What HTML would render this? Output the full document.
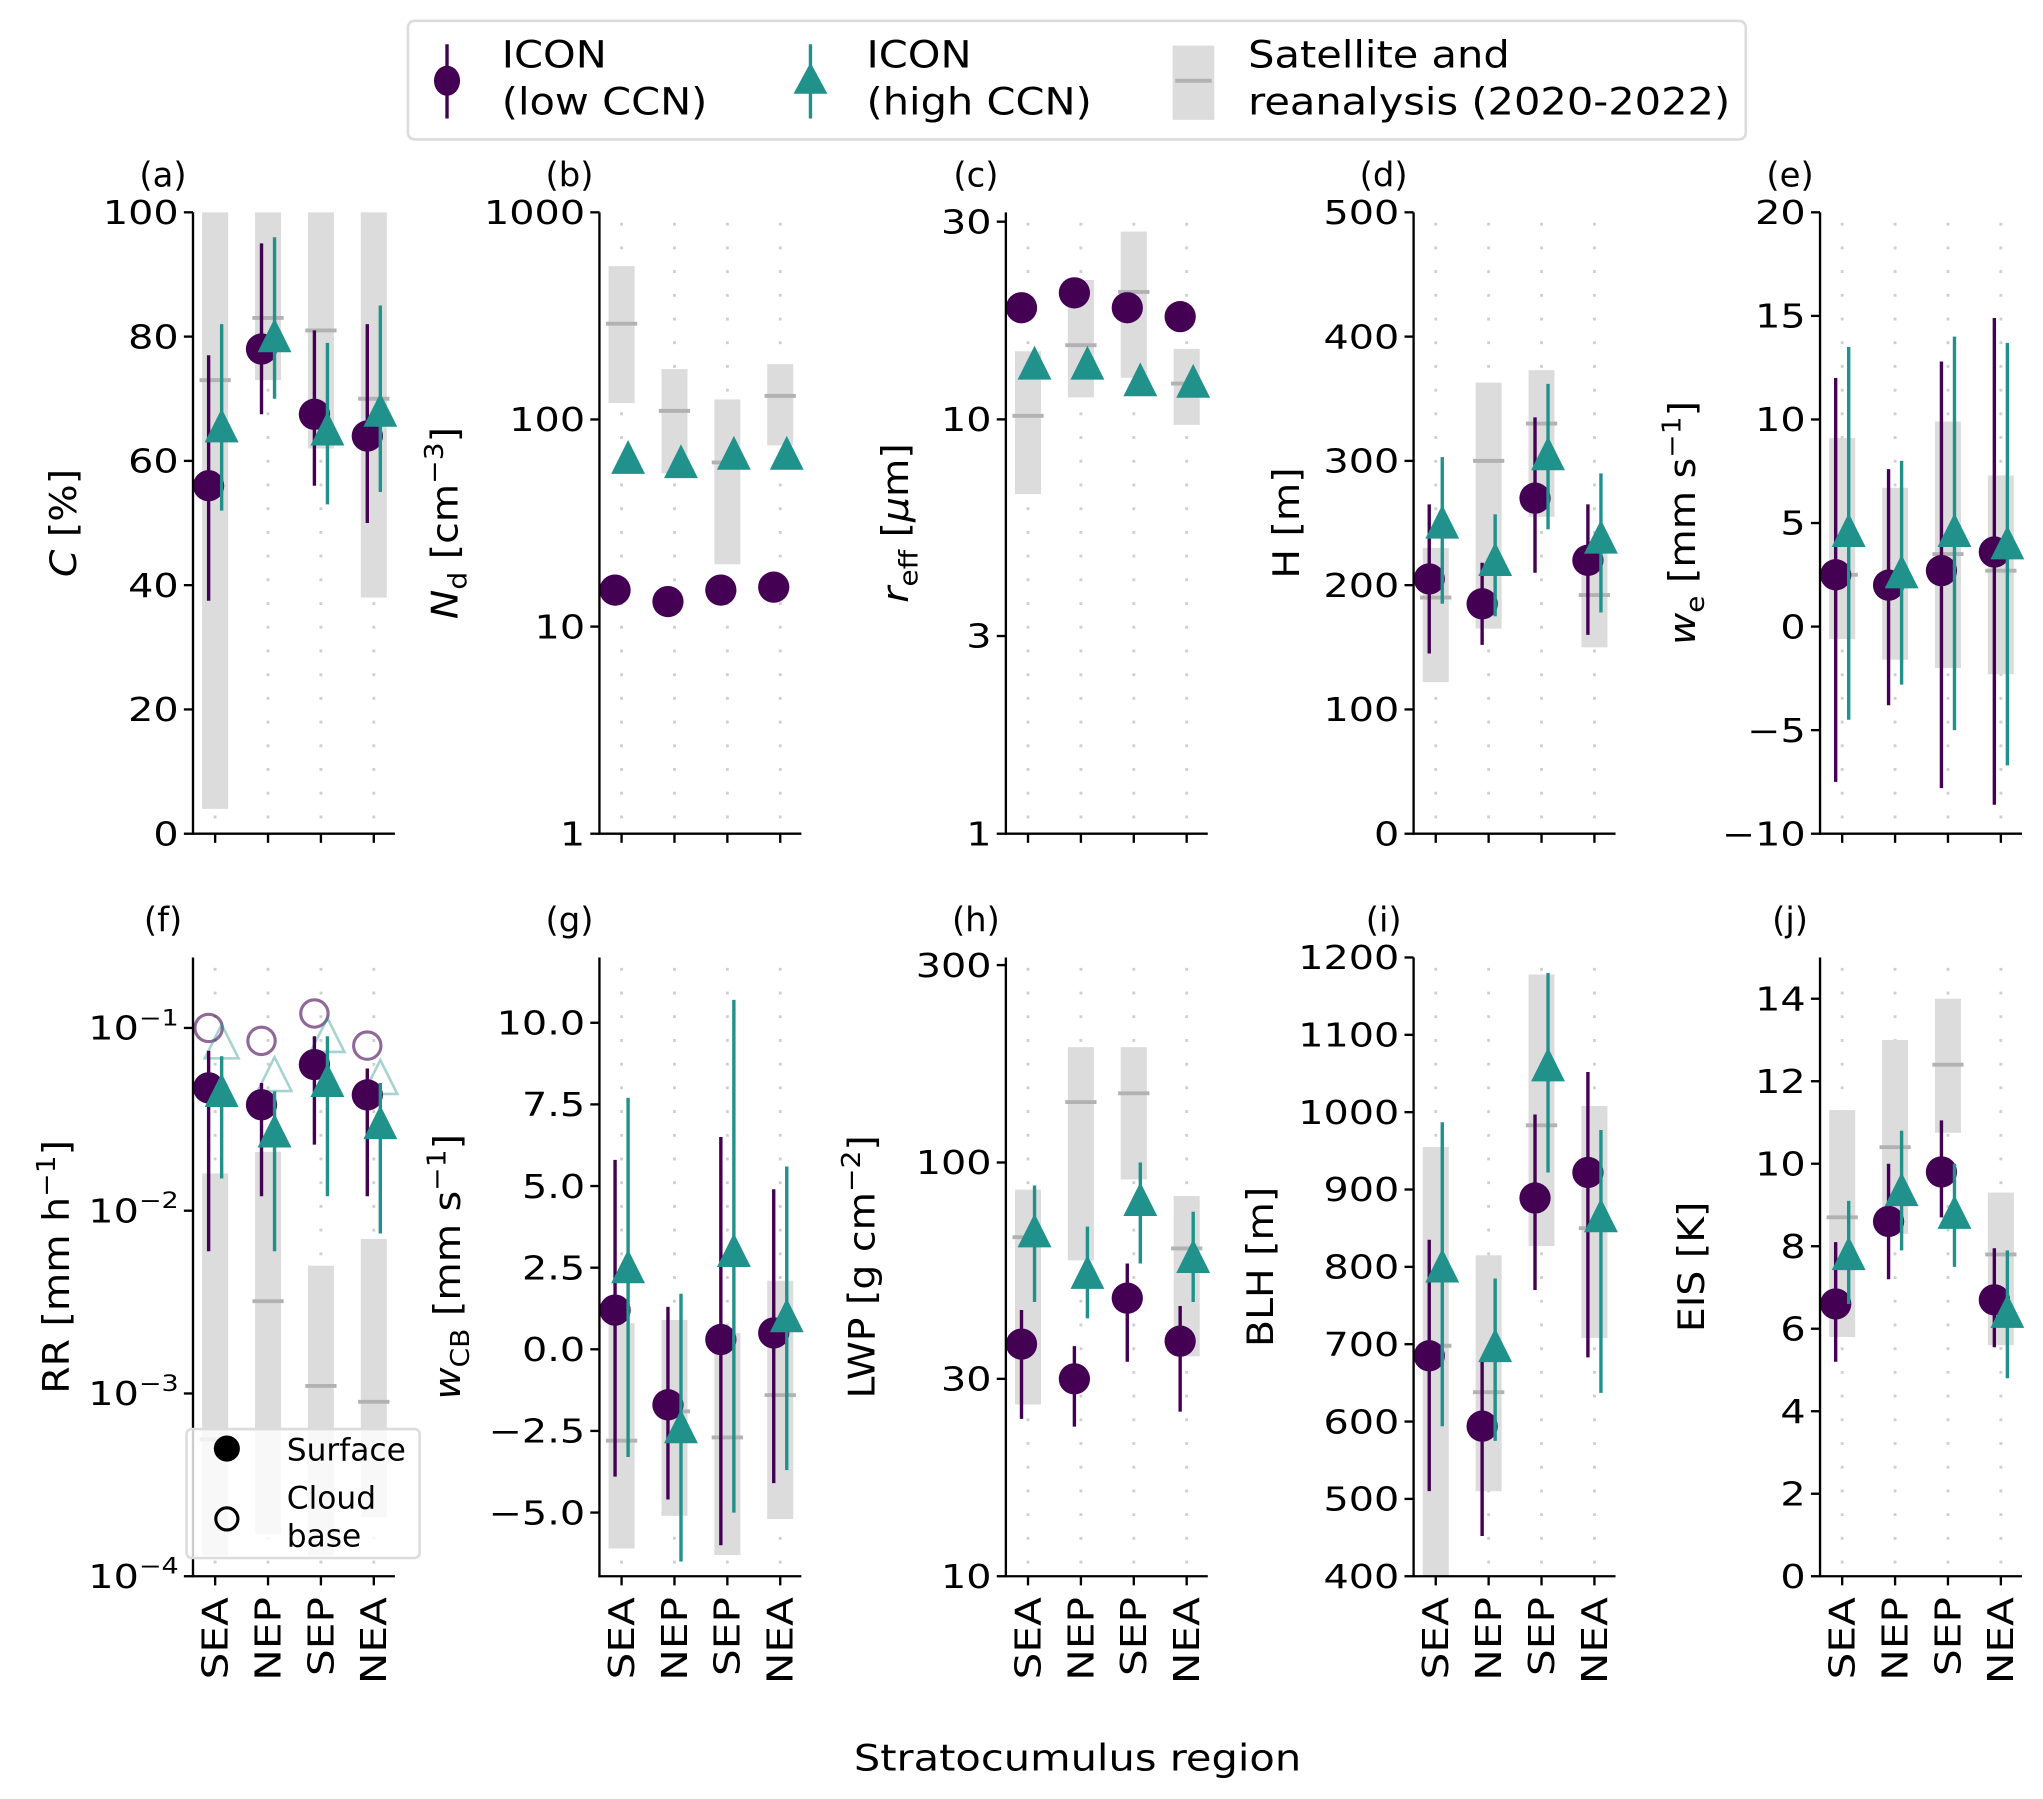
<!DOCTYPE html>
<html><head><meta charset="utf-8">
<style>
html,body{margin:0;padding:0;background:#fff;}
svg{display:block;font-family:"DejaVu Sans","Liberation Sans",sans-serif;}
</style></head>
<body>
<svg id="fig" width="2043" height="1799" viewBox="0 0 1568 1381" xmlns="http://www.w3.org/2000/svg"></svg>
<script>
const regions = ['SEA','NEP','SEP','NEA'];
// (a) cloud fraction
const C_low = [56,78,67.5,64];
const C_lowErr = [[37.5,77],[67.5,95],[56,81],[50,82]];
const C_high = [65.5,80,65,68];
const C_highErr = [[52,82],[70,96],[53,79],[55,85]];
const C_obs = [73,83,81,70];
const C_obsRange = [[4,100],[73,100],[62,100],[38,100]];
// (b) Nd
const Nd_low = [15,13.2,15,15.5];
const Nd_lowErr = [[14,16],[12.3,14],[14,16],[14.5,16.5]];
const Nd_high = [65,62,68,68];
const Nd_highErr = [[61,69],[58,66],[64,72],[64,72]];
const Nd_obs = [290,110,62,130];
const Nd_obsRange = [[120,550],[55,175],[20,125],[75,185]];
// (c) reff
const Re_low = [18.6,20.2,18.6,17.7];
const Re_lowErr = [[17.5,19.6],[19,21.3],[17.5,19.7],[16.6,18.8]];
const Re_high = [13.6,13.6,12.4,12.3];
const Re_highErr = [[12.5,14.7],[12.6,14.6],[11.5,13.3],[11.4,13.2]];
const Re_obs = [10.2,15.1,20.3,12.2];
const Re_obsRange = [[6.6,14.6],[11.3,21.7],[12.6,28.4],[9.7,14.8]];
// (d) H
const H_low = [205,185,270,220];
const H_lowErr = [[145,265],[152,218],[210,335],[160,265]];
const H_high = [250,220,305,238];
const H_highErr = [[185,303],[175,257],[245,362],[178,290]];
const H_obs = [190,300,330,192];
const H_obsRange = [[122,230],[165,363],[255,373],[150,228]];
// (e) we
const We_low = [2.5,2,2.7,3.6];
const We_lowErr = [[-7.5,12],[-3.8,7.6],[-7.8,12.8],[-8.6,14.9]];
const We_high = [4.6,2.6,4.6,4];
const We_highErr = [[-4.5,13.5],[-2.8,8],[-5,14],[-6.7,13.7]];
const We_obs = [2.5,2.2,3.5,2.7];
const We_obsRange = [[-0.6,9.1],[-1.6,6.7],[-2,9.9],[-2.3,7.3]];
// (f) RR
const RR_low = [0.047,0.038,0.063,0.043];
const RR_lowErr = [[0.006,0.075],[0.012,0.05],[0.023,0.09],[0.012,0.06]];
const RR_high = [0.045,0.027,0.051,0.030];
const RR_highErr = [[0.015,0.07],[0.006,0.045],[0.012,0.09],[0.0075,0.05]];
const RR_lowCB = [0.1,0.085,0.12,0.08];
const RR_highCB = [0.083,0.055,0.09,0.053];
const RR_obs = [0.00056,0.0032,0.0011,0.0009];
const RR_obsRange = [[0.00013,0.016],[0.00017,0.021],[0.00013,0.005],[0.00021,0.007]];
// (g) wCB
const Wcb_low = [1.2,-1.7,0.3,0.5];
const Wcb_lowErr = [[-3.9,5.8],[-4.6,1.3],[-6,6.5],[-4.1,4.9]];
const Wcb_high = [2.5,-2.4,3,1];
const Wcb_highErr = [[-3.3,7.7],[-6.5,1.7],[-5,10.7],[-3.7,5.6]];
const Wcb_obs = [-2.8,-1.9,-2.7,-1.4];
const Wcb_obsRange = [[-6.1,0.8],[-5.1,0.9],[-6.3,0.5],[-5.2,2.1]];
// (h) LWP
const L_low = [36.4,30,47,37];
const L_lowErr = [[24,44],[23,36],[33,57],[25,45]];
const L_high = [68,54,81,59];
const L_highErr = [[46,88],[42,70],[57,100],[46,76]];
const L_obs = [66,140,147,62];
const L_obsRange = [[26,86],[58,190],[91,190],[34,83]];
// (i) BLH
const B_low = [685,594,889,922];
const B_lowErr = [[510,835],[452,680],[770,997],[683,1052]];
const B_high = [800,697,1060,865];
const B_highErr = [[594,987],[575,785],[922,1180],[637,977]];
const B_obs = [698,638,983,850];
const B_obsRange = [[380,955],[510,815],[827,1178],[708,1008]];
// (j) EIS
const E_low = [6.6,8.6,9.8,6.7];
const E_lowErr = [[5.2,8.1],[7.2,10],[8.7,11.05],[5.55,7.95]];
const E_high = [7.8,9.35,8.8,6.4];
const E_highErr = [[6.6,9.1],[7.9,10.8],[7.5,10],[4.8,7.9]];
const E_obs = [8.7,10.4,12.4,7.8];
const E_obsRange = [[5.8,11.3],[8.3,13],[10.75,14],[5.6,9.3]];

const PURPLE='#440154', TEAL='#21918c';
const svg=document.getElementById('fig');
const NS='http://www.w3.org/2000/svg';
function mk(tag,attrs,parent){const e=document.createElementNS(NS,tag);for(const k in attrs)e.setAttribute(k,attrs[k]);(parent||svg).appendChild(e);return e;}

const colX=[148,460,772,1085,1397];
const rowY=[[163,640],[735,1210]];
const SUB='font-size="20" dy="7"', SUBR='dy="-7"', SUP='font-size="20" dy="-11"', SUPR='dy="11"';
const panels=[
 {id:'a',r:0,c:0,log:false,dom:[0,100],ticks:[0,20,40,60,80,100],tl:['0','20','40','60','80','100'],ylab:'<tspan font-style="italic">C</tspan> [%]',lx:47,low:C_low,lowE:C_lowErr,high:C_high,highE:C_highErr,obs:C_obs,obsR:C_obsRange},
 {id:'b',r:0,c:1,log:true,dom:[1,1000],ticks:[1,10,100,1000],tl:['1','10','100','1000'],ylab:`<tspan font-style="italic">N</tspan><tspan ${SUB}>d</tspan><tspan ${SUBR}> [cm</tspan><tspan ${SUP}>−3</tspan><tspan ${SUPR}>]</tspan>`,lx:340,low:Nd_low,lowE:Nd_lowErr,high:Nd_high,highE:Nd_highErr,obs:Nd_obs,obsR:Nd_obsRange},
 {id:'c',r:0,c:2,log:true,dom:[1,31.6],ticks:[1,3,10,30],tl:['1','3','10','30'],ylab:`<tspan font-style="italic">r</tspan><tspan ${SUB}>eff</tspan><tspan ${SUBR}> [</tspan><tspan font-style="italic">μ</tspan>m]`,lx:686,low:Re_low,lowE:Re_lowErr,high:Re_high,highE:Re_highErr,obs:Re_obs,obsR:Re_obsRange},
 {id:'d',r:0,c:3,log:false,dom:[0,500],ticks:[0,100,200,300,400,500],tl:['0','100','200','300','400','500'],ylab:'H [m]',lx:986,low:H_low,lowE:H_lowErr,high:H_high,highE:H_highErr,obs:H_obs,obsR:H_obsRange},
 {id:'e',r:0,c:4,log:false,dom:[-10,20],ticks:[-10,-5,0,5,10,15,20],tl:['−10','−5','0','5','10','15','20'],ylab:`<tspan font-style="italic">w</tspan><tspan ${SUB}>e</tspan><tspan ${SUBR}> [mm s</tspan><tspan ${SUP}>−1</tspan><tspan ${SUPR}>]</tspan>`,lx:1290,low:We_low,lowE:We_lowErr,high:We_high,highE:We_highErr,obs:We_obs,obsR:We_obsRange},
 {id:'f',r:1,c:0,log:true,dom:[1e-4,0.243],ticks:[1e-4,1e-3,1e-2,1e-1],tl:['−4','−3','−2','−1'],sup:true,ylab:`RR [mm h<tspan ${SUP}>−1</tspan><tspan ${SUPR}>]</tspan>`,lx:42,low:RR_low,lowE:RR_lowErr,high:RR_high,highE:RR_highErr,obs:RR_obs,obsR:RR_obsRange},
 {id:'g',r:1,c:1,log:false,dom:[-6.95,12],ticks:[-5,-2.5,0,2.5,5,7.5,10],tl:['−5.0','−2.5','0.0','2.5','5.0','7.5','10.0'],ylab:`<tspan font-style="italic">w</tspan><tspan ${SUB}>CB</tspan><tspan ${SUBR}> [mm s</tspan><tspan ${SUP}>−1</tspan><tspan ${SUPR}>]</tspan>`,lx:342,low:Wcb_low,lowE:Wcb_lowErr,high:Wcb_high,highE:Wcb_highErr,obs:Wcb_obs,obsR:Wcb_obsRange},
 {id:'h',r:1,c:2,log:true,dom:[10,313],ticks:[10,30,100,300],tl:['10','30','100','300'],ylab:`LWP [g cm<tspan ${SUP}>−2</tspan><tspan ${SUPR}>]</tspan>`,lx:660,low:L_low,lowE:L_lowErr,high:L_high,highE:L_highErr,obs:L_obs,obsR:L_obsRange},
 {id:'i',r:1,c:3,log:false,dom:[400,1200],ticks:[400,500,600,700,800,900,1000,1100,1200],tl:['400','500','600','700','800','900','1000','1100','1200'],ylab:'BLH [m]',lx:966,low:B_low,lowE:B_lowErr,high:B_high,highE:B_highErr,obs:B_obs,obsR:B_obsRange},
 {id:'j',r:1,c:4,log:false,dom:[0,15],ticks:[0,2,4,6,8,10,12,14],tl:['0','2','4','6','8','10','12','14'],ylab:'EIS [K]',lx:1297,low:E_low,lowE:E_lowErr,high:E_high,highE:E_highErr,obs:E_obs,obsR:E_obsRange}
];

function tri(g,x,y,fill,stroke,op){
  return mk('polygon',{points:`${x},${y-14} ${x-13},${y+12} ${x+13},${y+12}`,fill:fill,stroke:stroke||'none','stroke-width':2,opacity:op||1},g);
}

panels.forEach(P=>{
  const x0=colX[P.c], top=rowY[P.r][0], bot=rowY[P.r][1];
  const g=mk('g',{});
  
  
  const ys=v=>{
    if(P.log){const a=Math.log10(P.dom[0]),b=Math.log10(P.dom[1]);const lv=Math.log10(Math.max(v,1e-12));return bot-(lv-a)/(b-a)*(bot-top);}
    return bot-(v-P.dom[0])/(P.dom[1]-P.dom[0])*(bot-top);
  };
  const clampY=y=>Math.max(top,Math.min(bot,y));
  const xs=i=>x0+17+i*40.6;
  regions.forEach((r,i)=>{
    const l=mk('line',{x1:xs(i),x2:xs(i),y1:top+8,y2:bot,stroke:'#cfcfcf','stroke-width':2.2,'stroke-dasharray':'2.2,16'},g);
    
    
  });
  regions.forEach((r,i)=>{
    const y1=clampY(ys(P.obsR[i][1])), y2=clampY(ys(P.obsR[i][0]));
    const b=mk('rect',{x:xs(i)-10,y:y1,width:20,height:y2-y1,fill:'#dcdcdc'},g);
    
    
    const my=ys(P.obs[i]);
    if(my>=top&&my<=bot){
      const m=mk('line',{x1:xs(i)-12,x2:xs(i)+12,y1:my,y2:my,stroke:'#b2b2b2','stroke-width':3},g);
      
      
    }
  });
  if(P.id==='f'){
    regions.forEach((r,i)=>{
      const c=mk('circle',{cx:xs(i)-5,cy:ys(RR_lowCB[i]),r:10.5,fill:'none',stroke:PURPLE,'stroke-width':2.4,opacity:0.6},g);
      
      
      const t=tri(g,xs(i)+5,ys(RR_highCB[i]),'none',TEAL,0.4);
      
      
    });
  }
  regions.forEach((r,i)=>{
    const xl=xs(i)-5, xh=xs(i)+5;
    const el=mk('line',{x1:xl,x2:xl,y1:ys(P.lowE[i][0]),y2:ys(P.lowE[i][1]),stroke:PURPLE,'stroke-width':2.6},g);
    
    
    const c=mk('circle',{cx:xl,cy:ys(P.low[i]),r:12,fill:PURPLE},g);
    
    
    const eh=mk('line',{x1:xh,x2:xh,y1:ys(P.highE[i][0]),y2:ys(P.highE[i][1]),stroke:TEAL,'stroke-width':2.6},g);
    
    
    const t=tri(g,xh,ys(P.high[i]),TEAL);
    
    
  });
  const ya=mk('line',{x1:x0,x2:x0,y1:top,y2:bot+0.8,stroke:'#000','stroke-width':1.8},g);
  
  
  const xa=mk('line',{x1:x0-0.8,x2:x0+155,y1:bot,y2:bot,stroke:'#000','stroke-width':1.8},g);
  
  
  P.ticks.forEach((t,k)=>{
    const y=ys(t);
    mk('line',{x1:x0-7,x2:x0,y1:y,y2:y,stroke:'#000','stroke-width':1.8},g);
    const tx=mk('text',{transform:`translate(${x0-11},${y+9}) scale(1.22,1)`,x:0,y:0,'font-size':25,'text-anchor':'end',fill:'#000'},g);
    
    
    if(P.sup){tx.innerHTML='10<tspan font-size="17" dy="-11">'+P.tl[k]+'</tspan>';}
    else tx.textContent=P.tl[k];
  });
  regions.forEach((r,i)=>{
    mk('line',{x1:xs(i),x2:xs(i),y1:bot,y2:bot+7,stroke:'#000','stroke-width':1.8},g);
    if(P.r===1){
      const tx=mk('text',{transform:`translate(${xs(i)+9.5},${bot+16}) rotate(-90) scale(1.2,1)`,'font-size':27,'text-anchor':'end',fill:'#000'},g);
      
      
      tx.textContent=r;
    }
  });
  const yl=mk('text',{transform:`translate(${P.lx+11},${(top+bot)/2}) rotate(-90) scale(1.08,1)`,'font-size':28,'text-anchor':'middle',fill:'#000'},g);
  
  
  yl.innerHTML=P.ylab;
  const pl=mk('text',{x:x0-23,y:top-20,'font-size':26,'text-anchor':'middle',fill:'#000'},g);
  
  
  pl.textContent='('+P.id+')';
});

const lg=mk('g',{});


mk('rect',{x:143,y:1097,width:179,height:99,rx:4,fill:'#fff','fill-opacity':0.8,stroke:'#dcdcdc','stroke-width':2},lg);
mk('circle',{cx:174,cy:1112,r:10,fill:'#000'},lg);
mk('circle',{cx:174,cy:1166,r:8.5,fill:'none',stroke:'#000','stroke-width':2.4},lg);
const ls=mk('text',{x:220,y:1121,'font-size':24},lg);ls.textContent='Surface';
const lc=mk('text',{x:220,y:1158,'font-size':24},lg);lc.textContent='Cloud';
const lb=mk('text',{x:220,y:1187,'font-size':24},lg);lb.textContent='base';

const L=mk('g',{});


mk('rect',{x:313,y:16,width:1027,height:91,rx:5,fill:'#fff',stroke:'#dcdcdc','stroke-width':2},L);
mk('line',{x1:343,x2:343,y1:34,y2:91,stroke:PURPLE,'stroke-width':2.6},L);
mk('ellipse',{cx:343,cy:62,rx:10,ry:11.5,fill:PURPLE},L);
mk('line',{x1:622,x2:622,y1:34,y2:91,stroke:TEAL,'stroke-width':2.6},L);
mk('polygon',{points:'622,48 609,72 635,72',fill:TEAL},L);
mk('rect',{x:900,y:35,width:32,height:57,fill:'#dcdcdc'},L);
mk('line',{x1:902,x2:930,y1:62,y2:62,stroke:'#b2b2b2','stroke-width':3},L);
[[385,'ICON','(low CCN)'],[665,'ICON','(high CCN)'],[958,'Satellite and','reanalysis (2020-2022)']].forEach(([x,a,b])=>{
  const t1=mk('text',{transform:`translate(${x},52) scale(1.1,1)`,'font-size':29},L);t1.textContent=a;
  const t2=mk('text',{transform:`translate(${x},88) scale(1.1,1)`,'font-size':29},L);t2.textContent=b;
});

const xt=mk('text',{transform:'translate(827,1359) scale(1.14,1)','font-size':28,'text-anchor':'middle'});


xt.textContent='Stratocumulus region';
</script>
</body></html>
